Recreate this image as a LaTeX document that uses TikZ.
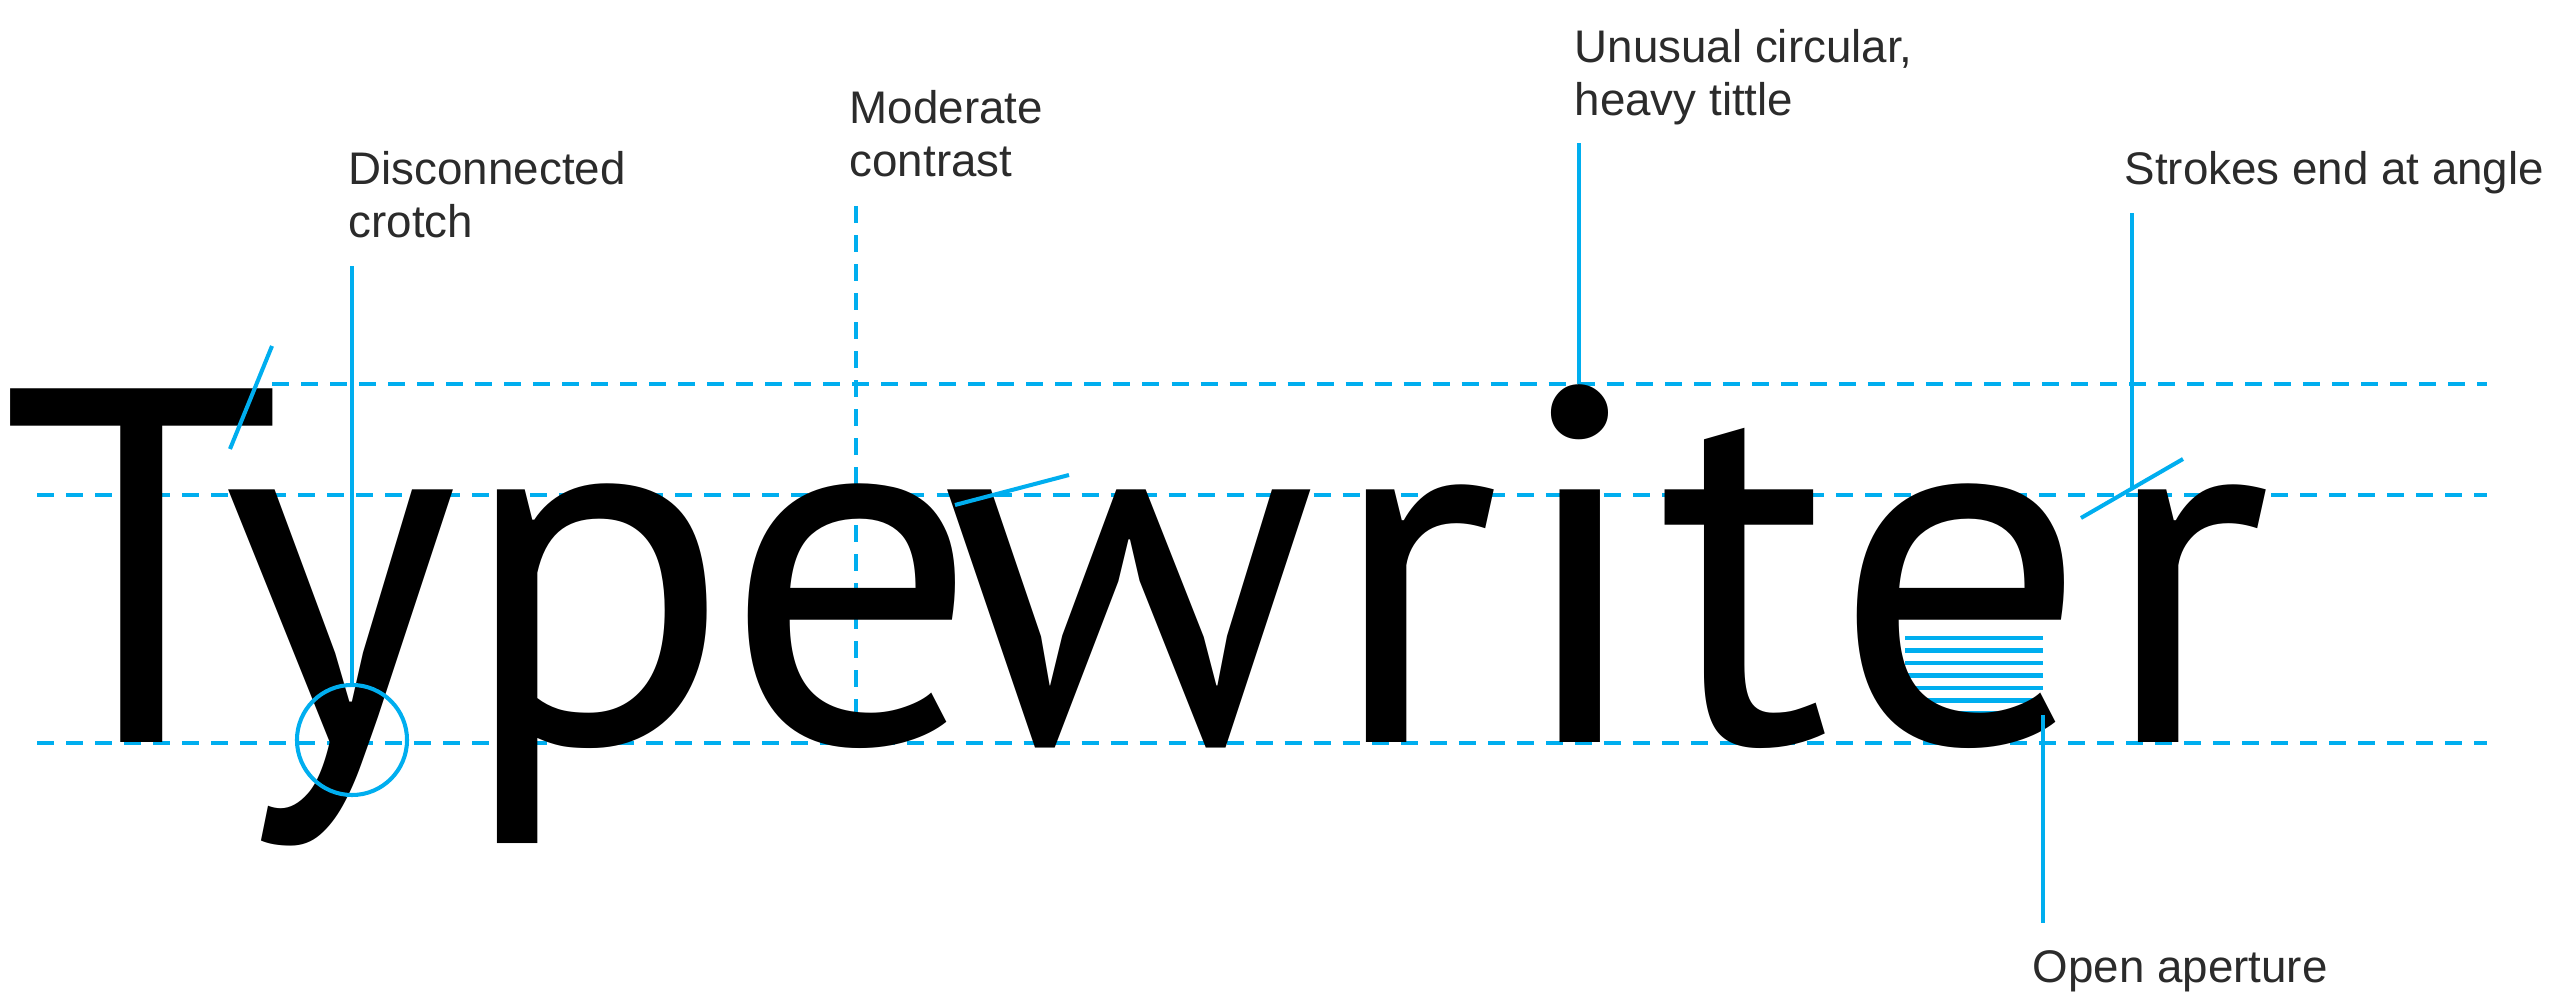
\documentclass[tikz,border=0pt]{standalone}
\usepackage{fontspec}
\setmainfont{Liberation Sans}
\newfontfamily\specfont{PT Sans}
\definecolor{TWCyan}{HTML}{00AEEF}
\definecolor{TWInk}{HTML}{2B2B2B}
\tikzset{
  guide/.style={TWCyan,line width=1pt,dash pattern=on 0.17cm off 0.12cm},
  leader/.style={TWCyan,line width=1.15pt},
  note/.style={TWInk,anchor=base west,align=left,inner sep=0pt,
    font=\fontsize{13pt}{15.1pt}\selectfont},
  letter/.style={anchor=base,inner sep=0pt,
    font=\specfont\fontsize{143.7pt}{150pt}\selectfont}
}

\begin{document}
\begin{tikzpicture}[x=0.01cm,y=-0.01cm]
  \path[use as bounding box] (0,0) rectangle (2562,992);

  % Guide lines: cap height, x-height, baseline, and the stress axis.
  \draw[guide] (272,384) -- (2487,384);
  \draw[guide] (37,495) -- (2487,495);
  \draw[guide] (37,743) -- (2487,743);
  \draw[guide] (856,206) -- (856,719);

  % Hatched counter of the second e.
  \foreach \k in {0,...,6}
    \draw[TWCyan,line width=1.15pt] (1905,638+12.5*\k) -- (2043,638+12.5*\k);

  % The specimen word, one glyph at a time.
  \foreach \ch/\cx [count=\n] in {T/142,y/340,p/595,e/852,w/1129,
                                  r/1413,i/1580,t/1745,e/1961,r/2185}
    \node[letter] (ch\n) at (\cx,743) {\ch};

  % Labels (base anchor sits on the last line).
  \node[note] (crotchlbl) at (348,238) {Disconnected\\crotch};
  \node[note] (contrastlbl) at (849,177) {Moderate\\contrast};
  \node[note] (tittlelbl) at (1574,116) {Unusual circular,\\heavy tittle};
  \node[note] (strokelbl) at (2124,185) {Strokes end at angle};
  \node[note] (aperturelbl) at (2032,983) {Open aperture};

  % Feature marks.
  \node[draw=TWCyan,line width=1.15pt,circle,minimum size=1.1cm,inner sep=0pt]
    (crotch) at (352,740) {};
  \draw[leader] (230,449) -- (272,346);
  \draw[leader] (955,505) -- (1069,475);
  \draw[leader] (2081,518) -- (2183,459);

  % Leaders up to the labels.
  \coordinate (crotchtop) at (352,266);
  \coordinate (tittle) at (1579,384);
  \coordinate (tittletop) at (1579,143);
  \coordinate (stroke) at (2132,487);
  \coordinate (stroketop) at (2132,213);
  \coordinate (aperture) at (2043,715);
  \coordinate (aperturebot) at (2043,923);
  \draw[leader] (crotch.north) -- (crotchtop);
  \draw[leader] (tittle) -- (tittletop);
  \draw[leader] (stroke) -- (stroketop);
  \draw[leader] (aperture) -- (aperturebot);
\end{tikzpicture}
\end{document}
